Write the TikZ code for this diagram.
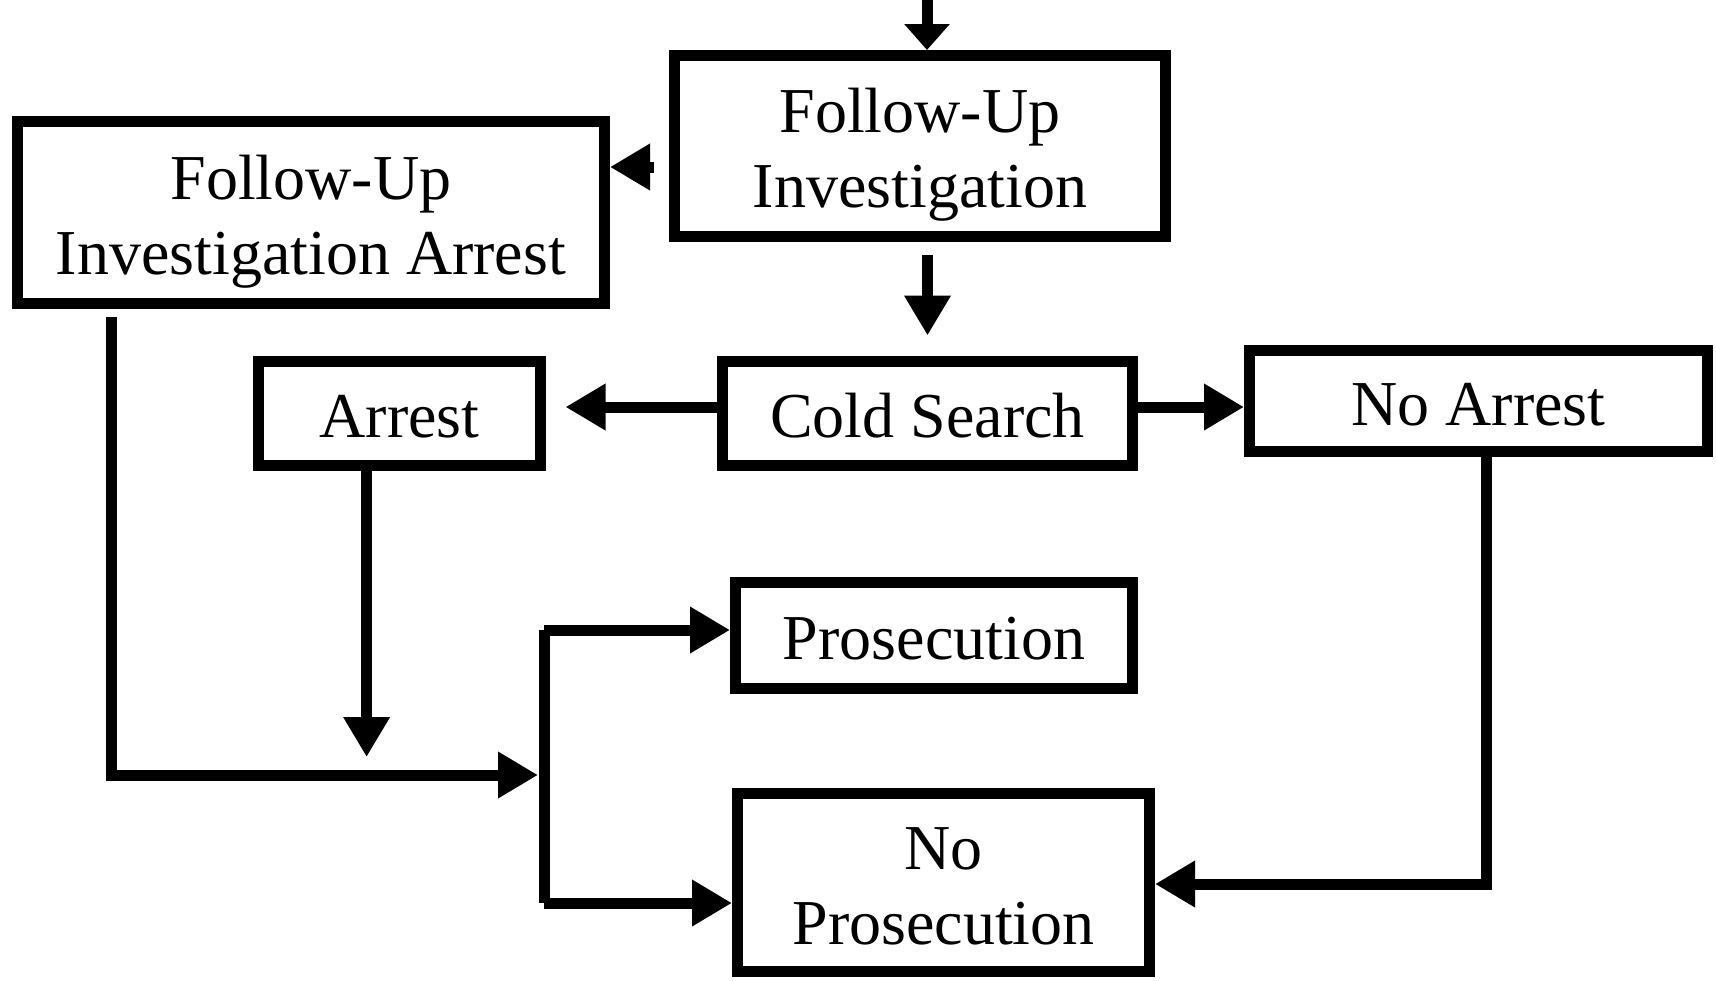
\documentclass[tikz,border=0pt]{standalone}
\usepackage{fontspec}
\setmainfont{Liberation Serif}
\usetikzlibrary{arrows.meta,calc}
\begin{document}
\begin{tikzpicture}[x=0.5pt,y=-0.5pt,
  box/.style={draw,line width=5.5pt,inner sep=0pt,align=center,font=\fontsize{32}{37.5}\selectfont,text height=24pt,text depth=0pt},
  twoline/.style={text height=61.5pt,text depth=0pt},
  conn/.style={line width=5.5pt,-{Triangle[length=20pt,width=22pt]}},
  topconn/.style={line width=5.5pt,-{Triangle[length=13pt,width=22pt]}},
  plain/.style={line width=5.5pt}]
\useasboundingbox (0,0) rectangle (1716,980);
\fill[white] (0,0) rectangle (1716,980);
% boxes
\node[box,twoline,minimum width=245.5pt,minimum height=90.5pt] (fui) at (920,146) {Follow-Up\\Investigation};
\node[box,twoline,minimum width=293.5pt,minimum height=91pt] (fuia) at (311,212.5) {Follow-Up\\Investigation Arrest};
\node[box,minimum width=141pt,minimum height=52pt] (arrest) at (399.5,413.5) {Arrest};
\node[box,minimum width=205pt,minimum height=52pt] (cold) at (927.5,413.5) {Cold Search};
\node[box,minimum width=229pt,minimum height=50.5pt] (noarr) at (1478.5,401) {No Arrest};
\node[box,minimum width=198.5pt,minimum height=53pt] (pros) at (934,635.5) {Prosecution};
\node[box,twoline,minimum width=206pt,minimum height=89pt] (nopros) at (943.5,882.5) {No\\Prosecution};
% coordinates
\coordinate (top) at (927,0);
\coordinate (s1) at (654,167);
\coordinate (m1) at (366.6,757);
\coordinate (jn) at (544,775);
\coordinate (bt) at (544,630);
\coordinate (bb) at (544,903);
\coordinate (c2) at (1486,884);
% connectors
\draw[topconn] (top) -- (top |- fui.north);
\draw[conn] (s1) -- (s1 -| fuia.east);
\draw[conn,shorten <=6.25pt,shorten >=10.25pt] (fui.south -| cold.north) -- (cold.north);
\draw[conn,shorten >=9.75pt] ([yshift=3.25pt]cold.west) -- ([yshift=3.25pt]cold.west -| arrest.east);
\draw[conn] ([yshift=3.25pt]cold.east) -- ([yshift=3.25pt]cold.east -| noarr.west);
\draw[conn] ([xshift=-16.45pt,yshift=5pt]arrest.south) -- (m1);
\draw[conn,shorten >=3pt] ([xshift=-99.85pt,yshift=-3.75pt]fuia.south) |- (jn);
\draw[plain] (bt) -- (bb);
\draw[conn] (bt) -- (bt -| pros.west);
\draw[conn] (bb) -- (bb -| nopros.west);
\draw[conn] (noarr.south -| c2) |- (nopros.east |- c2);
\end{tikzpicture}
\end{document}
